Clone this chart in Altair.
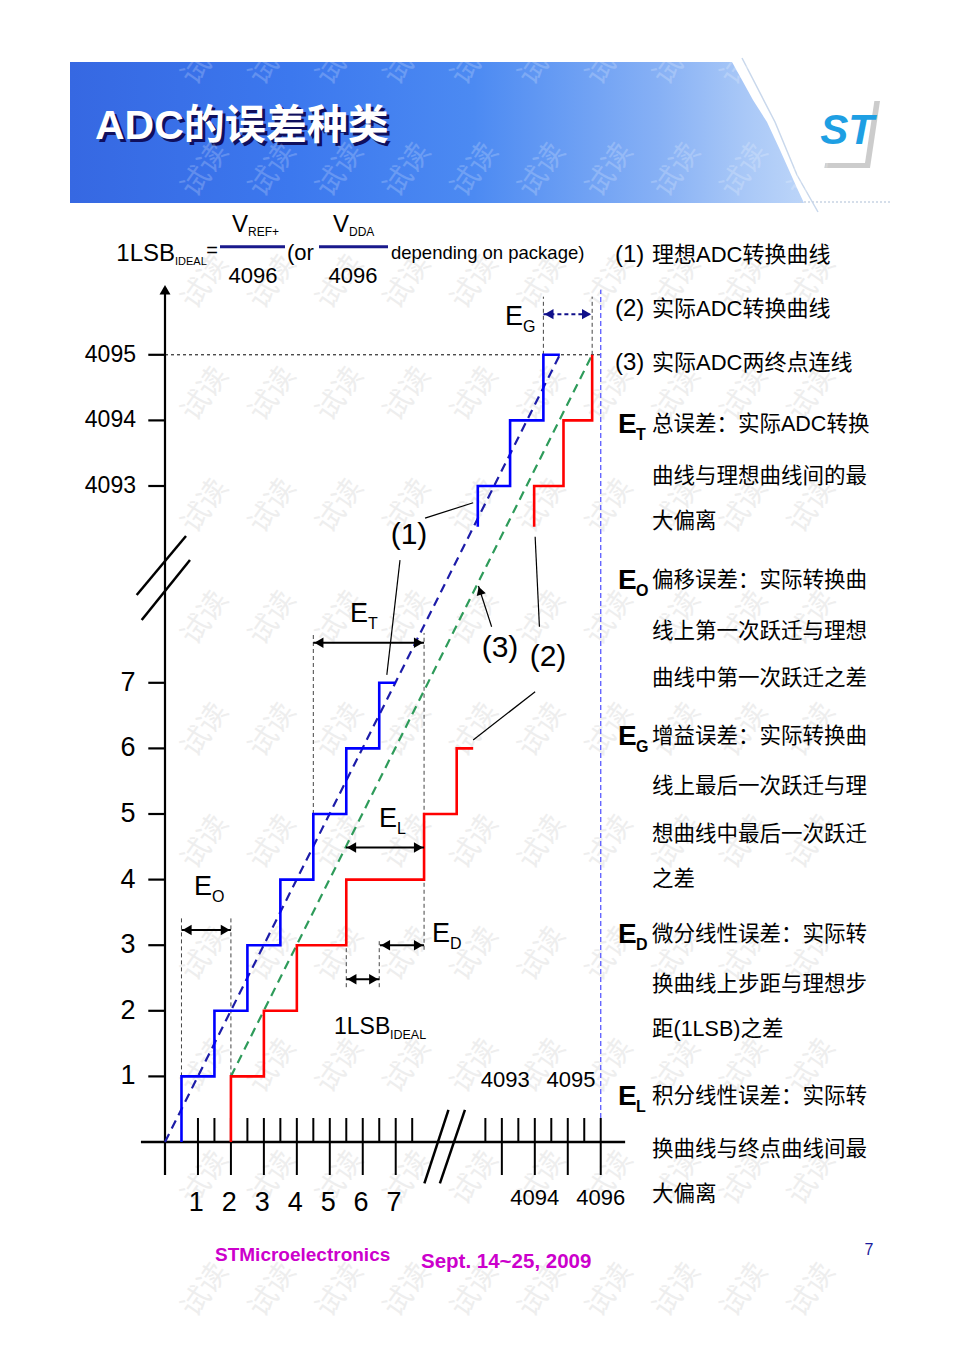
import altair as alt
import pandas as pd

# ---------------- data (diagram units: x in LSB, y in code index; 10,11,12 = 4093,4094,4095) ----------------
ideal_lo_x = [0.5, 0.5, 1.5, 1.5, 2.5, 2.5, 3.5, 3.5, 4.5, 4.5, 5.5, 5.5, 6.5, 6.5, 7.0]
ideal_lo_y = [0, 1, 1, 2, 2, 3, 3, 4, 4, 5, 5, 6, 6, 7, 7]
ideal_hi_x = [9.49, 9.49, 10.47, 10.47, 11.48, 11.48, 11.98]
ideal_hi_y = [9.38, 10, 10, 11, 11, 12, 12]
actual_lo_x = [2, 2, 3, 3, 4, 4, 5.5, 5.5, 7.86, 7.86, 8.85, 8.85, 9.35]
actual_lo_y = [0, 1, 1, 2, 2, 3, 3, 4, 4, 5, 5, 6, 6]
actual_hi_x = [11.2, 11.2, 12.09, 12.09, 12.96, 12.96]
actual_hi_y = [9.38, 10, 10, 11, 11, 12]
ideal_line_x = [0, 11.98]
ideal_line_y = [0, 12]
endpoint_line_x = [2, 12.96]
endpoint_line_y = [1, 12]

y_tick_codes = [1, 2, 3, 4, 5, 6, 7, 4093, 4094, 4095]
x_tick_codes_low = [1, 2, 3, 4, 5, 6, 7]
x_tick_codes_high = [4093, 4094, 4095, 4096]
x_labels_below_low = [1, 2, 3, 4, 5, 6, 7]
x_labels_below_high = [4094, 4096]
x_labels_above = [4093, 4095]

# double arrows: name, y, x_left, x_right
arrows = [("ET", 7.61, 4.5, 7.86), ("EL", 4.49, 5.49, 7.86), ("EO", 3.23, 0.5, 2.0),
          ("ED", 3.0, 6.52, 7.86), ("LSB", 2.48, 5.5, 6.5)]
eg_arrow = (12.62, 11.48, 12.96)
# dashed guide verticals: x, y1, y2
guides = [(11.48, 12, 12.886), (12.96, 12, 12.886), (4.5, 5, 7.76), (7.86, 2.93, 7.76),
          (0.5, 1, 3.41), (2.0, 1, 3.41), (5.5, 2.36, 3.0), (6.5, 2.36, 3.08)]
# leader lines
leaders = [(7.89, 9.51, 9.35, 9.745), (7.13, 8.87, 6.73, 7.12), (9.91, 7.855, 9.51, 8.476),
           (11.23, 9.227, 11.36, 7.855), (11.23, 6.864, 9.35, 6.128)]

right_lines = [
    ("(1)", "理想ADC转换曲线", 255), ("(2)", "实际ADC转换曲线", 309), ("(3)", "实际ADC两终点连线", 363)]
e_blocks = [
    ("T", ["总误差：实际ADC转换", "曲线与理想曲线间的最", "大偏离"], [425, 477, 522]),
    ("O", ["偏移误差：实际转换曲", "线上第一次跃迁与理想", "曲线中第一次跃迁之差"], [581, 632, 679]),
    ("G", ["增益误差：实际转换曲", "线上最后一次跃迁与理", "想曲线中最后一次跃迁", "之差"], [737, 787, 835, 880]),
    ("D", ["微分线性误差：实际转", "换曲线上步距与理想步", "距(1LSB)之差"], [935, 985, 1030]),
    ("L", ["积分线性误差：实际转", "换曲线与终点曲线间最", "大偏离"], [1097, 1150, 1195]),
]

SANS = "Liberation Sans, Arial, sans-serif"
CJK = "Liberation Sans, Noto Sans CJK SC, sans-serif"

# ---------------- scales ----------------
PX = alt.Scale(domain=[0, 960], range=[-8, 952])
PY = alt.Scale(domain=[0, 1357], range=[-8, 1349])
DX = alt.Scale(domain=[0, 10], range=[157, 486.6])
DY = alt.Scale(domain=[0, 12], range=[1134, 346.8])


def xpos(c):
    return c if c < 100 else c - 4096 + 13.22


def ypos(c):
    return c if c < 100 else c - 4083


def enc(xs, ys, xf="x", yf="y"):
    return dict(x=alt.X(f"{xf}:Q", scale=xs, axis=None), y=alt.Y(f"{yf}:Q", scale=ys, axis=None))


def rules(rows, color, width, dash=None, page=False, opacity=1):
    df = pd.DataFrame(rows, columns=["x", "y", "x2", "y2"])
    kw = dict(color=color, strokeWidth=width, opacity=opacity)
    if dash:
        kw["strokeDash"] = dash
    xs, ys = (PX, PY) if page else (DX, DY)
    return alt.Chart(df).mark_rule(**kw).encode(**enc(xs, ys), x2="x2:Q", y2="y2:Q")


def paths(pairs, color, width, dash=None, page=False):
    rows = []
    for g, (xs_, ys_) in enumerate(pairs):
        for i, (a, b) in enumerate(zip(xs_, ys_)):
            rows.append({"x": a, "y": b, "g": g, "i": i})
    kw = dict(color=color, strokeWidth=width, strokeJoin="miter")
    if dash:
        kw["strokeDash"] = dash
    xs, ys = (PX, PY) if page else (DX, DY)
    return alt.Chart(pd.DataFrame(rows)).mark_line(**kw).encode(
        **enc(xs, ys), detail="g:N", order="i:Q")


def heads(rows, shape, color="black", size=110, angle=0):
    df = pd.DataFrame(rows, columns=["x", "y"])
    return alt.Chart(df).mark_point(shape=shape, filled=True, color=color, size=size,
                                    opacity=1, angle=angle).encode(**enc(DX, DY))


def texts(rows, font, size, color="black", align="left", weight="normal", style="normal",
          angle=0, opacity=1, xs=PX, ys=PY):
    df = pd.DataFrame(rows, columns=["t", "x", "y"])
    return alt.Chart(df).mark_text(font=font, fontSize=size, color=color, align=align,
                                   baseline="middle", fontWeight=weight, fontStyle=style,
                                   angle=angle, opacity=opacity).encode(**enc(xs, ys), text="t:N")


layers = []

# ---------------- header banner ----------------
banner_y = [62, 80, 100, 122, 150, 188, 203]
banner_xr = [732, 742, 753, 767, 780, 797, 804]
bdf = pd.DataFrame({"y": banner_y, "x": banner_xr, "x2": [70] * len(banner_y)})
grad = alt.Gradient(gradient="linear", x1=0, x2=1, y1=0, y2=0, stops=[
    alt.GradientStop(color="#3668e2", offset=0), alt.GradientStop(color="#3c78ee", offset=0.3),
    alt.GradientStop(color="#4c8af2", offset=0.55), alt.GradientStop(color="#86b0f5", offset=0.8),
    alt.GradientStop(color="#a9c8f7", offset=0.92), alt.GradientStop(color="#bcd5f9", offset=1)])
layers.append(alt.Chart(bdf).mark_area(orient="horizontal", color=grad).encode(
    y=alt.Y("y:Q", scale=PY, axis=None), x=alt.X("x:Q", scale=PX, axis=None), x2="x2:Q"))
layers.append(paths([([742, 775, 797, 818], [58, 122, 175, 212])], "#c9d8ec", 1.5, page=True))
layers.append(rules([(800, 202, 890, 202)], "#c8d4e4", 1.5, dash=[2, 2], page=True))

# ST logo
sh = pd.DataFrame({"y": [101, 168], "x": [880, 870], "x2": [836.7, 824.3]})
layers.append(alt.Chart(sh).mark_area(orient="horizontal", color="#9a9a9a", opacity=0.5).encode(
    y=alt.Y("y:Q", scale=PY, axis=None), x=alt.X("x:Q", scale=PX, axis=None), x2="x2:Q"))
card = pd.DataFrame({"y": [96.7, 163], "x": [875, 865], "x2": [831.7, 819.3]})
layers.append(alt.Chart(card).mark_area(orient="horizontal", color="white").encode(
    y=alt.Y("y:Q", scale=PY, axis=None), x=alt.X("x:Q", scale=PX, axis=None), x2="x2:Q"))
layers.append(texts([("ST", 847, 131)], SANS, 42, color="#1e9fe3", align="center",
                    weight="bold", style="italic"))

# title (shadow + white)
layers.append(texts([("ADC的误差种类", 98, 130)], "Liberation Sans, Noto Sans CJK SC", 41,
                    color="#10105e", weight="bold"))
layers.append(texts([("ADC的误差种类", 95, 127)], "Liberation Sans, Noto Sans CJK SC", 41,
                    color="white", weight="bold"))

# ---------------- watermarks ----------------
wm_cols = [205 + 67.4 * k for k in range(10)]
wm_rows = [58 + 112 * j for j in range(12)]
wm_out = [("试读", cx, cy) for cy in wm_rows if cy > 210 for cx in wm_cols]
wm_in = [("试读", cx, cy) for cy in wm_rows if cy <= 210 for cx in wm_cols]
layers.append(texts(wm_out, "Noto Sans CJK SC", 29, color="#d6d6d6", align="center",
                    angle=305, opacity=0.4))
layers.append(texts(wm_in, "Noto Sans CJK SC", 29, color="white", align="center",
                    angle=305, opacity=0.2))

# ---------------- axes ----------------
layers.append(rules([(0, -0.503, 0, 12.95)], "black", 2.2))
layers.append(heads([(0, 12.99)], "triangle-up", size=120))
layers.append(rules([(-0.73, 0, 13.96, 0)], "black", 2.5))
layers.append(rules([(-0.507, ypos(c), 0, ypos(c)) for c in y_tick_codes], "black", 2.2))
above = [1 + 0.5 * k for k in range(14)] + [xpos(4092.5 + 0.5 * k) for k in range(8)]
layers.append(rules([(a, 0, a, 0.366) for a in above], "black", 2))
below = [xpos(c) for c in x_tick_codes_low + x_tick_codes_high]
layers.append(rules([(a, -0.503, a, 0) for a in below], "black", 2))
# axis breaks
layers.append(rules([(-0.859, 8.338, 0.637, 9.238), (-0.707, 7.957, 0.758, 8.872),
                     (7.87, -0.63, 8.6, 0.49), (8.34, -0.63, 9.1, 0.49)], "black", 2.5))

# tick labels
layers.append(texts([(str(c), 136, ypos(c)) for c in y_tick_codes if c > 100], SANS, 23,
                    align="right", xs=PX, ys=DY))
layers.append(texts([(str(c), 128, ypos(c)) for c in y_tick_codes if c < 100], SANS, 27,
                    align="center", xs=PX, ys=DY))
layers.append(texts([(str(c), xpos(c) - 0.05, 1203) for c in x_labels_below_low], SANS, 27,
                    align="center", xs=DX, ys=PY))
layers.append(texts([(str(c), xpos(c), 1198) for c in x_labels_below_high], SANS, 22,
                    align="center", xs=DX, ys=PY))
layers.append(texts([(str(c), xpos(c) + 0.1, 1080) for c in x_labels_above], SANS, 22,
                    align="center", xs=DX, ys=PY))

# ---------------- reference lines ----------------
layers.append(rules([(0, 12, 13.22, 12)], "black", 1, dash=[3, 3]))
layers.append(rules([(13.22, 0.366, 13.22, 12.99)], "#5a5aff", 1.3, dash=[5, 3]))
layers.append(rules([(g[0], g[1], g[0], g[2]) for g in guides], "#444444", 1, dash=[4, 3]))

# ---------------- curves ----------------
layers.append(paths([(ideal_line_x, ideal_line_y)], "#1c1ca8", 2.2, dash=[9, 6]))
layers.append(paths([(endpoint_line_x, endpoint_line_y)], "#2e9b5a", 2.2, dash=[9, 6]))
layers.append(paths([(ideal_lo_x, ideal_lo_y), (ideal_hi_x, ideal_hi_y)], "#0000ff", 2.6))
layers.append(paths([(actual_lo_x, actual_lo_y), (actual_hi_x, actual_hi_y)], "#ff0000", 2.6))

# ---------------- arrows & leaders ----------------
layers.append(rules([(a[2], a[1], a[3], a[1]) for a in arrows], "black", 2))
off = 0.17
layers.append(heads([(a[2] + off, a[1]) for a in arrows], "triangle-left"))
layers.append(heads([(a[3] - off, a[1]) for a in arrows], "triangle-right"))
layers.append(rules([(eg_arrow[1], eg_arrow[0], eg_arrow[2], eg_arrow[0])], "#10108a", 2,
                    dash=[4, 3]))
layers.append(heads([(eg_arrow[1] + off, eg_arrow[0])], "triangle-left", color="#10108a"))
layers.append(heads([(eg_arrow[2] - off, eg_arrow[0])], "triangle-right", color="#10108a"))
layers.append(rules(leaders, "black", 1.2))
layers.append(heads([(9.557, 8.404)], "triangle-up", size=90, angle=342))

# ---------------- diagram labels ----------------
layers.append(texts([("(1)", 409, 535), ("(3)", 500, 648), ("(2)", 548, 657)], SANS, 30,
                    align="center"))
elabs = [("T", 350, 614), ("L", 379, 819), ("O", 194, 887), ("D", 432, 934), ("G", 505, 317)]
layers.append(texts([("E", x, y) for _, x, y in elabs], SANS, 27))
layers.append(texts([(s, x + 18, y + 10) for s, x, y in elabs], SANS, 16))
layers.append(texts([("1LSB", 334, 1027)], SANS, 23))
layers.append(texts([("IDEAL", 390, 1035)], SANS, 12.5))

# header formula
layers.append(texts([("1LSB", 175, 254)], SANS, 24, align="right"))
layers.append(texts([("4096", 253, 276), ("4096", 353, 276)], SANS, 22, align="center"))
layers.append(texts([("IDEAL", 175, 262)], SANS, 11))
layers.append(texts([("=", 212, 251)], SANS, 20, align="center"))
layers.append(texts([("V", 232, 225), ("V", 333, 225)], SANS, 24))
layers.append(texts([("(or", 287, 253)], SANS, 22))
layers.append(texts([("REF+", 248, 232), ("DDA", 349, 232)], SANS, 12))
layers.append(texts([("depending on package)", 391, 253)], SANS, 18.5))
layers.append(rules([(220, 246.7, 285, 246.7), (319, 246.7, 388, 246.7)], "#1a1a8c", 3,
                    page=True))

# ---------------- right panel ----------------
layers.append(texts([(n, 615, y) for n, _, y in right_lines], SANS, 24))
layers.append(texts([(t, 652, y) for _, t, y in right_lines], CJK, 22))
layers.append(texts([("E", 618, b[2][0]) for b in e_blocks], SANS, 28, weight="bold"))
layers.append(texts([(b[0], 636, b[2][0] + 10) for b in e_blocks], SANS, 16, weight="bold"))
layers.append(texts([(t, 652, y) for b in e_blocks for t, y in zip(b[1], b[2])], CJK, 21.5))

# ---------------- footer ----------------
layers.append(texts([("STMicroelectronics", 215, 1255)], SANS, 19, color="#cc00cc",
                    weight="bold"))
layers.append(texts([("Sept. 14~25, 2009", 421, 1262)], SANS, 20.5, color="#cc00cc",
                    weight="bold"))
layers.append(texts([("7", 869, 1250)], SANS, 16, color="#1a1a9c", align="center"))

chart = alt.layer(*layers).resolve_scale(x="independent", y="independent").properties(
    width=944, height=1335, background="white", padding=0,
    autosize=alt.AutoSizeParams(type="none")
).configure_view(stroke=None)

chart.save("out.html", embed_options={"renderer": "svg", "actions": False})
